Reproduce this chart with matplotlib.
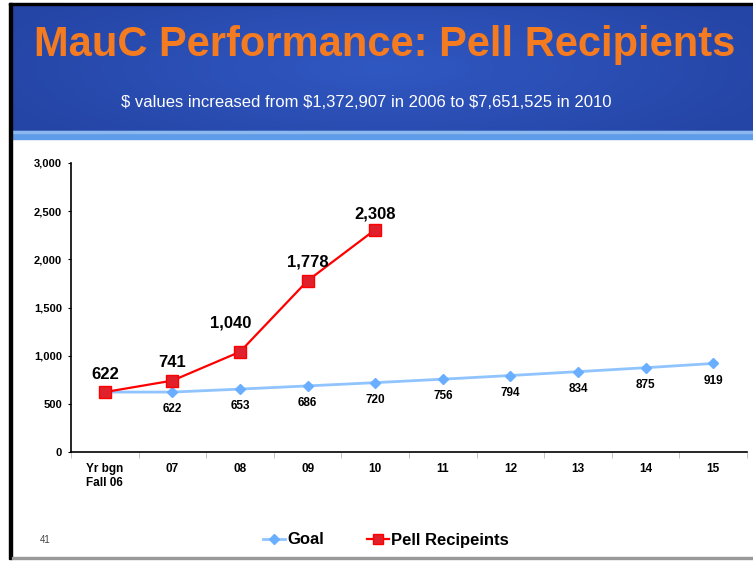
import numpy as np
import matplotlib.pyplot as plt
from matplotlib.patches import Rectangle
from matplotlib.lines import Line2D

# chart data
categories = ["Yr bgn\nFall 06", "07", "08", "09", "10", "11", "12", "13", "14", "15"]
goal = [622, 622, 653, 686, 720, 756, 794, 834, 875, 919]
pell = [622, 741, 1040, 1778, 2308]
y_ticks = [0, 500, 1000, 1500, 2000, 2500, 3000]

W, H = 753, 562
fig = plt.figure(figsize=(W / 100, H / 100), dpi=100)
plt.rcParams['font.family'] = ['Liberation Sans', 'DejaVu Sans']

def fx(px):
    return px / W

def fy(py):
    return 1 - py / H

# header background with soft gradient
hax = fig.add_axes([fx(12), fy(131), fx(753 - 12), (131 - 5) / H])
xx = np.linspace(-1, 1, 300)
yy = np.linspace(-1, 1, 60)
X, Y = np.meshgrid(xx, yy)
r = np.clip(np.sqrt((X * 0.9) ** 2 + (Y * 0.6) ** 2), 0, 1)
c0 = np.array([0x30, 0x58, 0xC2]) / 255
c1 = np.array([0x25, 0x45, 0xA6]) / 255
img = c0[None, None, :] * (1 - r[..., None]) + c1[None, None, :] * r[..., None]
hax.imshow(img, aspect='auto', extent=[0, 1, 0, 1])
hax.set_axis_off()

# light blue strip under header and frame lines
fig.add_artist(Rectangle((fx(12), fy(139)), fx(753 - 12), 8 / H, color='#5E9BE8',
                         transform=fig.transFigure, zorder=2))
fig.add_artist(Rectangle((fx(12), fy(133)), fx(753 - 12), 2 / H, color='#8CB8F0',
                         transform=fig.transFigure, zorder=2))
fig.add_artist(Rectangle((fx(9), fy(559)), fx(3), (559 - 3) / H, color='black',
                         transform=fig.transFigure, zorder=3))
fig.add_artist(Rectangle((fx(9), fy(5)), fx(744), 2 / H, color='black',
                         transform=fig.transFigure, zorder=3))
fig.add_artist(Rectangle((fx(12), fy(559)), fx(741), 2 / H, color='#999999',
                         transform=fig.transFigure, zorder=3))

fig.text(fx(385), fy(56), "MauC Performance: Pell Recipients", color='#F47B20',
         fontsize=30, fontweight='bold', ha='center', va='baseline')
fig.text(fx(366), fy(107), "$ values increased from $1,372,907 in 2006 to $7,651,525 in 2010",
         color='white', fontsize=12, ha='center', va='baseline')

# main chart
ax = fig.add_axes([fx(71), fy(452), fx(747 - 71), (452 - 163) / H])
x = np.arange(len(categories))
ax.plot(x, goal, color='#90C4FF', lw=2, marker='D', ms=5, mfc='#6AAEFF', mec='#6AAEFF', zorder=2)
ax.plot(x[:len(pell)], pell, color='#FF0000', lw=1.6, marker='s', ms=8, mfc='#E0202A',
        mec='#FF0000', zorder=3)

for i, v in enumerate(goal[1:], start=1):
    ax.annotate(f"{v:,}", (i, v), xytext=(0, -8), textcoords='offset points',
                ha='center', va='top', fontsize=8.5, fontweight='bold')
pell_offsets = [(0, 7), (0, 8), (-7, 15), (0, 8), (0, 6)]
for i, v in enumerate(pell):
    ax.annotate(f"{v:,}", (i, v), xytext=pell_offsets[i], textcoords='offset points',
                ha='center', va='bottom', fontsize=12, fontweight='bold')

ax.set_xlim(-0.5, len(categories) - 0.5)
ax.set_ylim(0, 3000)
ax.set_yticks(y_ticks)
ax.set_yticklabels([f"{t:,}" for t in y_ticks], fontsize=8, fontweight='bold')
ax.set_xticks(x)
ax.set_xticklabels(categories, fontsize=8.5, fontweight='bold', linespacing=1.25)
ax.set_xticks(np.arange(len(categories) + 1) - 0.5, minor=True)
ax.tick_params(axis='x', which='major', length=0, pad=8)
ax.tick_params(axis='x', which='minor', length=4, color='#BBBBBB', direction='out')
ax.tick_params(axis='y', length=2, pad=4.5)
for s in ['top', 'right']:
    ax.spines[s].set_visible(False)
ax.spines['left'].set_linewidth(1.2)
ax.spines['bottom'].set_linewidth(1.2)

# legend
handles = [Line2D([], [], color='#90C4FF', lw=2, marker='D', ms=5, mfc='#6AAEFF', mec='#6AAEFF'),
           Line2D([], [], color='#FF0000', lw=1.6, marker='s', ms=7, mfc='#E0202A', mec='#FF0000')]
fig.legend(handles, ["Goal", "Pell Recipeints"], loc='center', bbox_to_anchor=(fx(386), fy(540)),
           ncol=2, frameon=False, handlelength=1.3, handletextpad=0.15, columnspacing=2.6,
           prop={'weight': 'bold', 'size': 12})
fig.text(fx(45), fy(540), "41", fontsize=7, color='#444444', ha='center', va='center')

fig.savefig("out.png", dpi=100)
